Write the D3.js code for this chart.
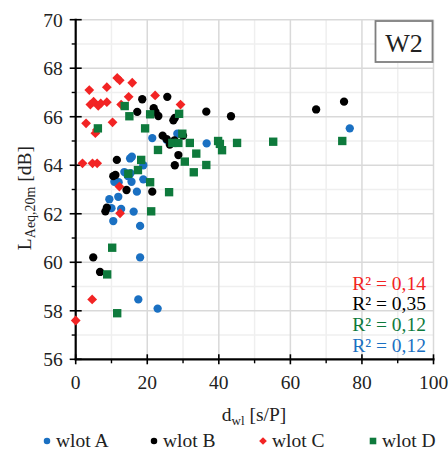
<!DOCTYPE html>
<html>
<head>
<meta charset="utf-8">
<script src="https://cdn.jsdelivr.net/npm/d3@7"></script>
<style>
  html, body { margin: 0; padding: 0; background: #fff; }
  svg { display: block; font-family: "Liberation Serif", "DejaVu Serif", serif; }
</style>
</head>
<body>
<svg id="chart" width="448" height="457"></svg>
<script>
// Series: [d_wl (s/P), L_Aeq,20m (dB)]
const wlotA = [
  [76.6, 65.52], [36.6, 64.9], [28.4, 65.3], [25.4, 65.05], [21.4, 65.12],
  [15.2, 64.28], [15.7, 64.35], [18.9, 64.0], [13.6, 63.72], [15.3, 63.67],
  [14.6, 63.55], [10.8, 63.32], [12.0, 63.3], [15.6, 63.32], [18.9, 63.42],
  [17.1, 62.91], [11.9, 62.7], [9.4, 62.6], [10.0, 62.23], [12.7, 62.2],
  [16.2, 62.09], [10.5, 61.7], [18.0, 61.5], [18.0, 60.2], [17.5, 58.47],
  [22.9, 58.09]
];
const wlotB = [
  [75.0, 66.62], [67.2, 66.3], [43.4, 66.02], [36.5, 66.21], [25.6, 66.82],
  [18.6, 66.72], [17.2, 66.2], [21.8, 66.35], [22.3, 66.2], [23.1, 66.03],
  [27.3, 65.85], [27.7, 65.95], [24.3, 65.22], [30.0, 65.22], [25.4, 65.08],
  [26.3, 64.85], [27.6, 65.02], [28.7, 64.42], [27.7, 64.0], [11.5, 64.22],
  [10.5, 63.55], [11.1, 63.6], [14.2, 62.98], [21.4, 62.91], [8.7, 62.25],
  [8.3, 62.1], [4.9, 60.2], [6.8, 59.6]
];
const wlotC = [
  [3.8, 67.1], [11.6, 67.6], [12.3, 67.5], [15.8, 67.4], [8.7, 67.22],
  [22.2, 66.88], [14.8, 66.82], [29.3, 66.5], [4.1, 66.5], [5.0, 66.62],
  [6.3, 66.45], [7.0, 66.55], [8.7, 66.6], [12.7, 66.5], [2.9, 65.73],
  [5.5, 65.32], [5.9, 65.45], [10.3, 65.77], [1.9, 64.08], [4.7, 64.08],
  [6.0, 64.08], [12.2, 63.12], [12.4, 62.02], [4.6, 58.47], [0.0, 57.6]
];
const wlotD = [
  [74.5, 65.0], [55.2, 64.97], [45.1, 64.92], [39.8, 65.0], [40.3, 64.88],
  [40.9, 64.62], [31.9, 64.92], [36.5, 64.01], [33.7, 64.48], [33.0, 63.71],
  [30.5, 64.15], [29.8, 65.3], [28.9, 66.12], [27.0, 64.92], [28.7, 64.92],
  [26.1, 62.89], [23.0, 64.63], [13.7, 66.44], [15.0, 66.02], [20.8, 66.1],
  [19.4, 65.52], [6.2, 65.52], [18.3, 64.22], [14.7, 63.65], [17.4, 63.8],
  [20.8, 63.3], [21.1, 62.1], [10.2, 60.6], [8.8, 59.5], [11.6, 57.9]
];

const seriesNames = ["wlot A", "wlot B", "wlot C", "wlot D"];
const seriesColors = ["#1a70c2", "#000000", "#f22424", "#0e7a3c"];
const seriesShapes = ["circle", "circle", "diamond", "square"];
const rSquared = ["R² = 0,14", "R² = 0,35", "R² = 0,12", "R² = 0,12"];
const rSquaredColors = ["#f22424", "#000000", "#0e7a3c", "#1a70c2"];
const xTicks = [0, 20, 40, 60, 80, 100];
const yTicks = [56, 58, 60, 62, 64, 66, 68, 70];
const panelLabel = "W2";

const FS = 19.5;
const svg = d3.select("#chart");
const plotL = 75.7, plotR = 433.5, plotT = 19.7, plotB = 359.3;

const x = d3.scaleLinear().domain([0, 100]).range([plotL, plotR]);
const y = d3.scaleLinear().domain([56, 70]).range([plotB, plotT]);

// Gridlines: minor first, then major
const grid = svg.append("g");
const minorX = d3.range(10, 100, 20);
const minorY = d3.range(57, 70, 2);
grid.selectAll(".mx").data(minorX).join("line")
  .attr("x1", d => x(d)).attr("x2", d => x(d))
  .attr("y1", plotT).attr("y2", plotB)
  .attr("stroke", "#efefef").attr("stroke-width", 1.5);
grid.selectAll(".my").data(minorY).join("line")
  .attr("x1", plotL).attr("x2", plotR)
  .attr("y1", d => y(d)).attr("y2", d => y(d))
  .attr("stroke", "#efefef").attr("stroke-width", 1.5);
grid.selectAll(".gx").data(xTicks.slice(1)).join("line")
  .attr("x1", d => x(d)).attr("x2", d => x(d))
  .attr("y1", plotT).attr("y2", plotB)
  .attr("stroke", "#d9d9d9").attr("stroke-width", 1.5);
grid.selectAll(".gy").data(yTicks.slice(1)).join("line")
  .attr("x1", plotL).attr("x2", plotR)
  .attr("y1", d => y(d)).attr("y2", d => y(d))
  .attr("stroke", "#d9d9d9").attr("stroke-width", 1.5);

// Y axis with major (crossing) and minor ticks
const yAxis = svg.append("g");
yAxis.append("line").attr("x1", plotL).attr("x2", plotL).attr("y1", plotT - 1).attr("y2", plotB + 1)
  .attr("stroke", "#000").attr("stroke-width", 2.2);
yAxis.selectAll(".t").data(yTicks).join("line")
  .attr("x1", plotL - 6).attr("x2", plotL + 6)
  .attr("y1", d => y(d)).attr("y2", d => y(d))
  .attr("stroke", "#000").attr("stroke-width", 1.6);
yAxis.selectAll(".mt").data(minorY).join("line")
  .attr("x1", plotL - 4).attr("x2", plotL)
  .attr("y1", d => y(d)).attr("y2", d => y(d))
  .attr("stroke", "#000").attr("stroke-width", 1.4);
yAxis.selectAll("text").data(yTicks).join("text")
  .attr("x", plotL - 13).attr("y", d => y(d)).attr("dy", "0.35em")
  .attr("text-anchor", "end").attr("font-size", FS).attr("fill", "#222")
  .text(d => d);

// X axis
const xAxis = svg.append("g");
xAxis.append("line").attr("x1", plotL - 1).attr("x2", plotR + 1).attr("y1", plotB).attr("y2", plotB)
  .attr("stroke", "#000").attr("stroke-width", 2.2);
xAxis.selectAll(".t").data(xTicks).join("line")
  .attr("x1", d => x(d)).attr("x2", d => x(d))
  .attr("y1", plotB - 5).attr("y2", plotB + 5)
  .attr("stroke", "#000").attr("stroke-width", 1.6);
xAxis.selectAll(".mt").data(minorX).join("line")
  .attr("x1", d => x(d)).attr("x2", d => x(d))
  .attr("y1", plotB).attr("y2", plotB + 4)
  .attr("stroke", "#000").attr("stroke-width", 1.4);
xAxis.selectAll("text").data(xTicks).join("text")
  .attr("x", d => x(d)).attr("y", 389)
  .attr("text-anchor", "middle").attr("font-size", FS).attr("fill", "#222")
  .text(d => d);

// Axis titles
const xt = svg.append("text").attr("x", 254).attr("y", 421)
  .attr("text-anchor", "middle").attr("font-size", FS).attr("fill", "#222");
xt.append("tspan").text("d");
xt.append("tspan").attr("font-size", 13).attr("dy", 4).text("wl");
xt.append("tspan").attr("dy", -4).text(" [s/P]");

const yt = svg.append("text")
  .attr("transform", "translate(31,198) rotate(-90)")
  .attr("text-anchor", "middle").attr("font-size", FS).attr("fill", "#222");
yt.append("tspan").text("L");
yt.append("tspan").attr("font-size", 14).attr("dy", 4).text("Aeq,20m");
yt.append("tspan").attr("dy", -4).text(" [dB]");

// Markers
function shapePath(shape, scale) {
  if (shape === "circle") return d3.symbol(d3.symbolCircle, 54 * scale)();
  if (shape === "square") return d3.symbol(d3.symbolSquare, 70 * scale)();
  return d3.symbol(d3.symbolSquare, 48 * scale)();
}
const allSeries = [wlotA, wlotB, wlotC, wlotD];
allSeries.forEach((data, i) => {
  svg.append("g").selectAll("path").data(data).join("path")
    .attr("d", shapePath(seriesShapes[i], 1))
    .attr("transform", d => `translate(${x(d[0])},${y(d[1])})` +
      (seriesShapes[i] === "diamond" ? " rotate(45)" : ""))
    .attr("fill", seriesColors[i]);
});

// Panel label box
const box = svg.append("g");
box.append("rect").attr("x", 375.5).attr("y", 21).attr("width", 57).attr("height", 41)
  .attr("fill", "#fff").attr("stroke", "#7f7f7f").attr("stroke-width", 1.8);
box.append("text").attr("x", 404).attr("y", 51.5).attr("text-anchor", "middle")
  .attr("font-size", 26).attr("fill", "#222").text(panelLabel);

// R² annotations
svg.append("g").selectAll("text").data(rSquared).join("text")
  .attr("x", 426).attr("y", (d, i) => 289.5 + i * 20.7)
  .attr("text-anchor", "end").attr("font-size", FS)
  .attr("fill", (d, i) => rSquaredColors[i])
  .text(d => d);

// Legend
const legendX = [47, 154, 263, 373];
const leg = svg.append("g");
seriesNames.forEach((name, i) => {
  leg.append("path")
    .attr("d", shapePath(seriesShapes[i], 0.62))
    .attr("transform", `translate(${legendX[i]},441)` + (seriesShapes[i] === "diamond" ? " rotate(45)" : ""))
    .attr("fill", seriesColors[i]);
  leg.append("text").attr("x", legendX[i] + 9).attr("y", 447)
    .attr("font-size", FS).attr("fill", "#222").text(name);
});
</script>
</body>
</html>
